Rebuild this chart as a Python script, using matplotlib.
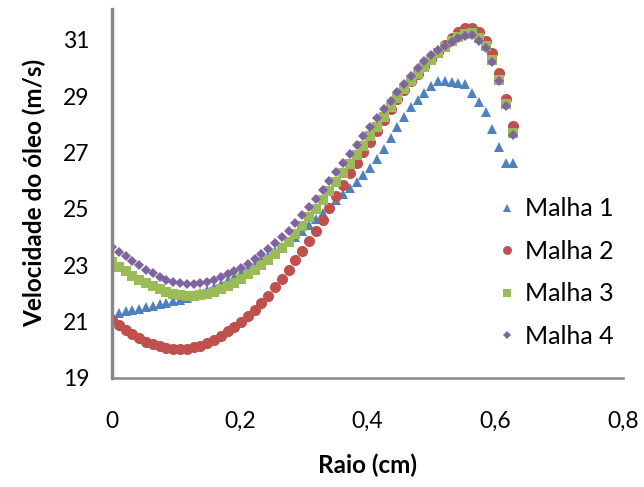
import matplotlib.pyplot as plt

# pontos ao longo do raio (cm)
raio = [0.0, 0.0106, 0.0213, 0.0319, 0.0426, 0.0532, 0.0638, 0.0745, 0.0851, 0.0958,
        0.1064, 0.1170, 0.1277, 0.1383, 0.1490, 0.1596, 0.1702, 0.1809, 0.1915, 0.2022,
        0.2128, 0.2234, 0.2341, 0.2447, 0.2554, 0.2660, 0.2766, 0.2873, 0.2979, 0.3086,
        0.3192, 0.3298, 0.3405, 0.3511, 0.3618, 0.3724, 0.3830, 0.3937, 0.4043, 0.4150,
        0.4256, 0.4362, 0.4469, 0.4575, 0.4682, 0.4788, 0.4894, 0.5001, 0.5107, 0.5214,
        0.5320, 0.5426, 0.5533, 0.5639, 0.5746, 0.5852, 0.5958, 0.6065, 0.6171, 0.6278]

# velocidade do oleo (m/s) para cada malha
malha1 = [21.25, 21.31, 21.36, 21.41, 21.46, 21.51, 21.56, 21.61, 21.66, 21.72,
          21.77, 21.82, 21.91, 22.01, 22.11, 22.22, 22.34, 22.46, 22.59, 22.73,
          22.87, 23.02, 23.18, 23.34, 23.50, 23.66, 23.82, 23.99, 24.20, 24.42,
          24.64, 24.86, 25.08, 25.30, 25.52, 25.74, 25.96, 26.20, 26.46, 26.77,
          27.13, 27.52, 27.90, 28.27, 28.60, 28.88, 29.12, 29.35, 29.52, 29.52,
          29.50, 29.48, 29.44, 29.12, 28.78, 28.42, 27.84, 27.18, 26.63, 26.63]

malha2 = [21.06, 20.87, 20.70, 20.55, 20.41, 20.29, 20.19, 20.12, 20.06, 20.03,
          20.02, 20.04, 20.08, 20.15, 20.24, 20.36, 20.50, 20.65, 20.82, 21.00,
          21.20, 21.42, 21.66, 21.92, 22.21, 22.52, 22.84, 23.17, 23.51, 23.85,
          24.22, 24.61, 25.02, 25.44, 25.85, 26.26, 26.64, 27.00, 27.38, 27.77,
          28.16, 28.54, 28.90, 29.22, 29.52, 29.80, 30.06, 30.31, 30.55, 30.80,
          31.06, 31.28, 31.42, 31.42, 31.28, 30.96, 30.54, 29.83, 28.90, 27.95]

malha3 = [23.10, 22.94, 22.78, 22.63, 22.49, 22.37, 22.25, 22.14, 22.05, 21.98,
          21.93, 21.91, 21.91, 21.93, 21.98, 22.05, 22.14, 22.25, 22.38, 22.52,
          22.67, 22.83, 23.00, 23.18, 23.38, 23.60, 23.84, 24.10, 24.40, 24.70,
          25.00, 25.31, 25.62, 25.94, 26.26, 26.58, 26.91, 27.24, 27.58, 27.92,
          28.26, 28.60, 28.93, 29.24, 29.53, 29.80, 30.05, 30.29, 30.52, 30.74,
          30.94, 31.10, 31.20, 31.24, 31.05, 30.78, 30.28, 29.58, 28.72, 27.68]

malha4 = [23.63, 23.47, 23.31, 23.15, 22.99, 22.84, 22.71, 22.59, 22.49, 22.41,
          22.36, 22.34, 22.34, 22.36, 22.41, 22.48, 22.57, 22.67, 22.78, 22.90,
          23.05, 23.21, 23.38, 23.57, 23.77, 23.99, 24.23, 24.49, 24.77, 25.06,
          25.36, 25.67, 25.98, 26.30, 26.62, 26.94, 27.26, 27.58, 27.90, 28.22,
          28.53, 28.84, 29.14, 29.44, 29.73, 30.00, 30.25, 30.46, 30.63, 30.78,
          30.92, 31.05, 31.14, 31.18, 30.97, 30.72, 30.22, 29.54, 28.66, 27.63]

xticks = [0, 0.2, 0.4, 0.6, 0.8]
xlabels = ['0', '0,2', '0,4', '0,6', '0,8']
yticks = [19, 21, 23, 25, 27, 29, 31]

plt.rcParams['font.family'] = ['Lato', 'DejaVu Sans']

fig = plt.figure(figsize=(6.44, 4.87), dpi=100)
ax = fig.add_axes([0.174, 0.224, 0.793, 0.758])

ax.plot(raio, malha1, '^', color='#4F81BD', ms=7.5, mew=0, label='Malha 1')
ax.plot(raio, malha2, 'o', color='#C0504D', ms=8, mew=0, label='Malha 2')
ax.plot(raio, malha3, 's', color='#9BBB59', ms=6.6, mew=0, label='Malha 3')
ax.plot(raio, malha4, 'D', color='#8064A2', ms=5, mew=0, label='Malha 4')

ax.set_xlim(0, 0.8)
ax.set_ylim(19, 32.1)
ax.set_xticks(xticks)
ax.set_xticklabels(xlabels)
ax.set_yticks(yticks)

# so os eixos da esquerda e de baixo, sem tracinhos
for lado in ['top', 'right']:
    ax.spines[lado].set_visible(False)
ax.spines['left'].set_color('#868686')
ax.spines['left'].set_linewidth(2.4)
ax.spines['bottom'].set_color('#868686')
ax.spines['bottom'].set_linewidth(1.8)
ax.tick_params(axis='x', length=0, pad=24, labelsize=16.5)
ax.tick_params(axis='y', length=0, pad=16, labelsize=16.5)

ax.set_xlabel('Raio (cm)', fontsize=17.5, fontweight='bold', labelpad=15)
ax.set_ylabel('Velocidade do óleo (m/s)', fontsize=17.5, fontweight='bold', labelpad=12)

ax.legend(loc='center left', bbox_to_anchor=(0.774, 0.44), bbox_transform=fig.transFigure,
          frameon=False, fontsize=18, handlelength=0.7, handletextpad=0.35,
          labelspacing=0.78, borderpad=0, borderaxespad=0, markerscale=0.8)

fig.savefig('out.png', dpi=100)
